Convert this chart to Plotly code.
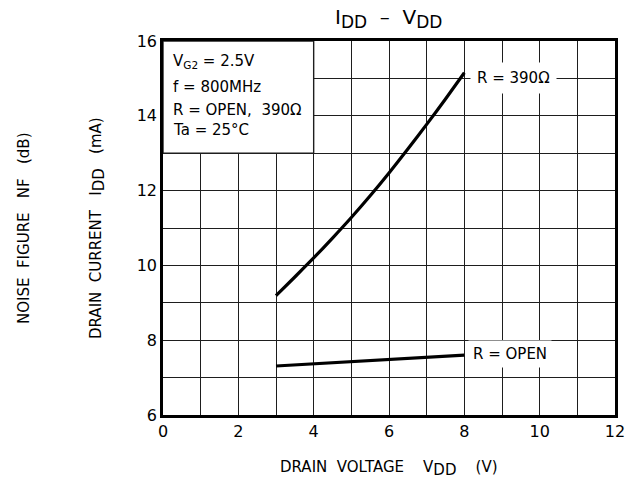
import plotly.graph_objects as go

# Data
vdd = [3.0, 3.5, 4.0, 4.5, 5.0, 5.5, 6.0, 6.5, 7.0, 7.5, 8.0]
idd_390 = [9.19, 9.69, 10.20, 10.73, 11.28, 11.86, 12.47, 13.11, 13.77, 14.45, 15.15]
vdd_open = [3.0, 4.0, 5.0, 6.0, 7.0, 8.0]
idd_open = [7.31, 7.37, 7.42, 7.47, 7.54, 7.60]

x_ticks = [0, 2, 4, 6, 8, 10, 12]
y_ticks = [6, 8, 10, 12, 14, 16]

cond_lines = ["V<sub>G2</sub> = 2.5V", "f = 800MHz", "R = OPEN,  390Ω", "Ta = 25°C"]
cond_y = [15.44, 14.77, 14.15, 13.62]

FONT = "DejaVu Sans"
GRID = "#1e1e1e"

fig = go.Figure()
fig.add_trace(go.Scatter(x=vdd, y=idd_390, mode="lines", line=dict(color="black", width=3.2, shape="spline", smoothing=0.6),
                         showlegend=False))
fig.add_trace(go.Scatter(x=vdd_open, y=idd_open, mode="lines", line=dict(color="black", width=3.2),
                         showlegend=False))

# White box behind the condition text (covers grid)
fig.add_shape(type="rect", xref="x", yref="y", x0=0, x1=4, y0=13, y1=16, layer="between",
              fillcolor="white", line=dict(color=GRID, width=1.4))

fig.update_layout(
    width=629, height=481,
    margin=dict(l=163, r=14, t=41, b=66, autoexpand=False),
    paper_bgcolor="white", plot_bgcolor="white",
    font=dict(family=FONT, color="black", size=16),
    title=dict(text="I<sub><span style='font-size:17px'>DD</span></sub>  –  V<sub><span style='font-size:17px'>DD</span></sub>",
               x=0.618, xanchor="center", y=0.98, yanchor="top",
               font=dict(size=20, family=FONT)),
)
fig.update_xaxes(range=[0, 12], tickmode="array", tickvals=x_ticks, ticks="outside", ticklen=0,
                 showline=True, linecolor="black", linewidth=2.5, mirror=True,
                 showgrid=True, gridcolor=GRID, gridwidth=1.4,
                 minor=dict(dtick=1, showgrid=True, gridcolor=GRID, gridwidth=1.4),
                 zeroline=False, tickfont=dict(size=16), automargin=False)
fig.update_yaxes(range=[6, 16], tickmode="array", tickvals=y_ticks, ticks="outside", ticklen=0,
                 showline=True, linecolor="black", linewidth=2.5, mirror=True,
                 showgrid=True, gridcolor=GRID, gridwidth=1.4,
                 minor=dict(dtick=1, showgrid=True, gridcolor=GRID, gridwidth=1.4),
                 zeroline=False, tickfont=dict(size=16), automargin=False)

for txt, yy in zip(cond_lines, cond_y):
    fig.add_annotation(text=txt, xref="x", yref="y", x=0.22, y=yy, xanchor="left", yanchor="middle",
                       showarrow=False, align="left", font=dict(size=15, family=FONT))

fig.add_annotation(text="R = 390Ω", xref="x", yref="y", x=9.3, y=15, showarrow=False,
                   bgcolor="white", borderpad=6, font=dict(size=15, family=FONT))
fig.add_annotation(text="R = OPEN", xref="x", yref="y", x=9.2, y=7.62, showarrow=False,
                   bgcolor="white", borderpad=4, font=dict(size=15, family=FONT))

fig.add_annotation(text="DRAIN  VOLTAGE    V<sub><span style='font-size:15px'>DD</span></sub>    (V)",
                   xref="paper", yref="paper",
                   x=0.5, y=0, yshift=-53, xanchor="center", yanchor="middle", showarrow=False,
                   font=dict(size=15, family=FONT))
fig.add_annotation(text="DRAIN  CURRENT   I<sub><span style='font-size:15px'>DD</span></sub>   (mA)",
                   xref="paper", yref="paper",
                   x=0, y=0.5, xshift=-66, textangle=-90, xanchor="center", yanchor="middle",
                   showarrow=False, font=dict(size=15, family=FONT))
fig.add_annotation(text="NOISE  FIGURE   NF   (dB)", xref="paper", yref="paper",
                   x=0, y=0.5, xshift=-139, textangle=-90, xanchor="center", yanchor="middle",
                   showarrow=False, font=dict(size=15, family=FONT))

fig.write_html("out.html")
